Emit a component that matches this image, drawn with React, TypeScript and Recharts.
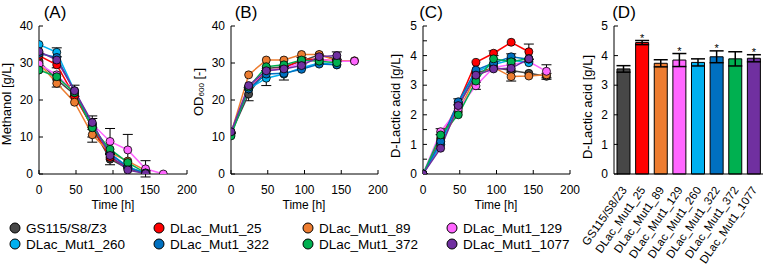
import React from "react";
import {
  LineChart,
  Line,
  BarChart,
  Bar,
  Cell,
  XAxis,
  YAxis,
  ErrorBar,
  LabelList,
} from "recharts";

// sampling times [h]
const times = [0, 24, 48, 72, 96, 120, 144, 168];

const strains = [
  "GS115/S8/Z3",
  "DLac_Mut1_25",
  "DLac_Mut1_89",
  "DLac_Mut1_129",
  "DLac_Mut1_260",
  "DLac_Mut1_322",
  "DLac_Mut1_372",
  "DLac_Mut1_1077",
];
const keys = ["gs", "m25", "m89", "m129", "m260", "m322", "m372", "m1077"];
const colors = ["#474747", "#FF0000", "#ED7D31", "#FF66FF", "#00B0F0", "#0070C0", "#00B050", "#7030A0"];

// (A) methanol [g/L], one row per strain
const methanol = [
  [30.5, 25.5, 21.5, 12.5, 4.0, 1.5, 0.2, null],
  [32.0, 29.5, 21.0, 12.8, 4.5, 1.8, 0.2, null],
  [30.0, 24.5, 19.4, 10.6, 5.8, 3.5, 1.0, null],
  [29.7, 26.8, 22.0, 13.5, 8.8, 6.5, 1.4, 0.0],
  [35.0, 32.9, 22.5, 13.2, 5.5, 2.0, 0.2, null],
  [32.6, 31.5, 22.3, 13.5, 5.5, 1.8, 0.2, null],
  [28.1, 26.3, 22.0, 12.5, 6.7, 3.1, 0.3, null],
  [33.1, 30.8, 22.5, 13.9, 5.0, 1.1, 0.1, null],
];
const methanolErr = [
  [0, 2.0, 0, 2.5, 1.5, 0, 0, 0],
  [0, 0.8, 0, 0, 0, 0, 0, 0],
  [0, 0, 0, 2.0, 0, 0, 0, 0],
  [0, 0, 0, 0, 3.5, 4.2, 2.2, 0],
  [0, 1.2, 0, 0, 0, 0, 0, 0],
  [0, 0, 0, 0, 0, 0, 0, 0],
  [0, 0, 0, 0, 0, 0, 0, 0],
  [0, 0, 1.5, 1.8, 0, 0, 0, 0],
];

// (B) OD600 [-]
const od = [
  [11.0, 21.6, 28.5, 29.0, 30.5, 32.2, 31.0, null],
  [11.2, 23.0, 28.0, 28.5, 31.0, 31.0, 30.5, null],
  [11.0, 26.8, 30.8, 30.8, 32.3, 32.3, 30.6, 30.6],
  [11.3, 23.5, 28.0, 28.5, 30.0, 31.0, 30.5, 30.5],
  [11.0, 23.0, 25.9, 27.0, 28.7, 30.0, 29.5, null],
  [11.0, 23.0, 27.0, 27.2, 28.3, 29.7, 29.5, null],
  [10.3, 23.5, 29.0, 29.5, 30.8, 30.5, 30.1, null],
  [11.4, 23.9, 27.9, 28.4, 29.3, 31.7, 32.0, null],
];
const odErr = [
  [0, 1.8, 0, 0, 1.0, 0, 0, 0],
  [0, 0, 0, 0, 0, 0, 0, 0],
  [0, 0, 0, 0, 0, 0, 0, 0],
  [0, 0, 0, 0, 0, 0, 0, 0],
  [0, 0, 2.0, 0, 0, 0, 0, 0],
  [0, 0, 0, 1.8, 0, 0, 0, 0],
  [0, 0, 0, 0, 0, 0, 0, 0],
  [0, 0, 0, 0, 0, 0, 1.0, 0],
];

// (C) D-lactic acid [g/L]
const lactic = [
  [0, 1.0, 2.3, 3.4, 3.6, 3.5, 3.4, 3.3],
  [0, 1.2, 2.4, 3.77, 4.08, 4.45, 4.13, null],
  [0, 1.1, 2.1, 3.3, 3.6, 3.29, 3.31, 3.35],
  [0, 1.43, 2.2, 2.98, 3.6, 3.7, 3.8, 3.47],
  [0, 1.0, 2.4, 3.45, 3.7, 3.85, 3.76, null],
  [0, 1.1, 2.44, 3.51, 3.75, 3.96, 3.88, null],
  [0, 1.32, 2.0, 3.14, 3.89, 3.79, 3.9, null],
  [0, 0.87, 2.31, 3.34, 3.55, 3.57, 3.89, null],
];
const lacticErr = [
  [0, 0, 0, 0, 0, 0, 0, 0.1],
  [0, 0, 0, 0, 0.08, 0, 0.26, 0],
  [0, 0, 0, 0, 0, 0.15, 0, 0],
  [0, 0.1, 0, 0.12, 0, 0, 0, 0.22],
  [0, 0, 0, 0, 0, 0, 0, 0],
  [0, 0, 0.1, 0, 0, 0.1, 0, 0],
  [0, 0, 0, 0, 0, 0, 0, 0],
  [0, 0, 0, 0, 0, 0, 0, 0],
];

// (D) final D-lactic acid [g/L]
const finalLactic = [3.55, 4.44, 3.74, 3.85, 3.77, 3.96, 3.89, 3.91];
const finalErr = [0.11, 0.07, 0.12, 0.22, 0.12, 0.2, 0.24, 0.12];
const significant = [false, true, false, true, false, true, false, true];

const xTicks = [0, 50, 100, 150, 200];
const FONT = "'Liberation Sans', Arial, sans-serif";

function rowsFor(values: (number | null)[][], errs: number[][]) {
  return times.map((t, i) => {
    const row: any = { t };
    keys.forEach((k, s) => {
      row[k] = values[s][i];
      row[k + "_e"] = errs[s][i];
    });
    return row;
  });
}

interface PanelProps {
  left: number;
  yWidth: number;
  values: (number | null)[][];
  errs: number[][];
  yMax: number;
  yTicks: number[];
  yFmt?: (v: number) => string;
}

function TimePanel({ left, yWidth, values, errs, yMax, yTicks, yFmt }: PanelProps) {
  const data = rowsFor(values, errs);
  const tickStyle = { fontSize: 12, fill: "#000", fontFamily: FONT };
  return (
    <div style={{ position: "absolute", left, top: 0 }}>
      <LineChart width={202} height={215} data={data} margin={{ top: 26, right: 15, bottom: 0, left: 0 }}>
        <XAxis
          dataKey="t"
          type="number"
          domain={[0, 200]}
          ticks={xTicks}
          interval={0}
          tickSize={-4}
          tickMargin={15}
          height={41}
          tick={tickStyle}
          stroke="#000"
          allowDataOverflow
        />
        <XAxis
          xAxisId="top"
          orientation="top"
          dataKey="t"
          type="number"
          domain={[0, 200]}
          ticks={xTicks}
          interval={0}
          tickSize={-4}
          tick={false}
          height={0}
          stroke="#000"
          allowDataOverflow
        />
        <YAxis
          type="number"
          domain={[0, yMax]}
          ticks={yTicks}
          interval={0}
          tickSize={-4}
          tickMargin={10}
          width={yWidth}
          tick={tickStyle}
          tickFormatter={yFmt}
          stroke="#000"
          allowDataOverflow
        />
        <YAxis
          yAxisId="r"
          orientation="right"
          type="number"
          domain={[0, yMax]}
          ticks={yTicks}
          interval={0}
          tickSize={-4}
          tick={false}
          width={0}
          stroke="#000"
          allowDataOverflow
        />
        {keys.map((k, s) => (
          <Line
            key={k}
            dataKey={k}
            stroke={colors[s]}
            strokeWidth={1.5}
            dot={{ r: 4, fill: colors[s], stroke: "#000", strokeWidth: 0.8 }}
            isAnimationActive={false}
          >
            <ErrorBar dataKey={k + "_e"} width={5} stroke="#000" strokeWidth={1} direction="y" />
          </Line>
        ))}
      </LineChart>
    </div>
  );
}

const barRows = strains.map((name, i) => ({
  name,
  v: finalLactic[i],
  e: finalErr[i],
  sig: significant[i] ? 1 : 0,
}));

function RotTick(props: any) {
  const { x, y, payload } = props;
  const ax = x + 4;
  const ay = y + 8;
  return (
    <text
      x={ax}
      y={ay}
      transform={`rotate(-55 ${ax} ${ay})`}
      textAnchor="end"
      fontSize={11.5}
      fontFamily={FONT}
      fill="#000"
    >
      {payload.value}
    </text>
  );
}

function Star(props: any) {
  const { x, y, width, height, value, index } = props;
  if (!value) return null;
  const errPx = (finalErr[index] * height) / finalLactic[index];
  return (
    <text x={x + width / 2} y={y - errPx + 1} textAnchor="middle" fontSize={11} fontFamily={FONT} fill="#000">
      *
    </text>
  );
}

function BarPanel() {
  const tickStyle = { fontSize: 12, fill: "#000", fontFamily: FONT };
  return (
    <div style={{ position: "absolute", left: 574, top: 0 }}>
      <BarChart
        width={190}
        height={270}
        data={barRows}
        margin={{ top: 26, right: 1, bottom: 0, left: 0 }}
        barCategoryGap={3}
      >
        <XAxis dataKey="name" interval={0} tickLine={false} tick={<RotTick />} height={96} stroke="#000" />
        <XAxis xAxisId="top" orientation="top" dataKey="name" tick={false} tickLine={false} height={0} stroke="#000" />
        <YAxis
          type="number"
          domain={[0, 5]}
          ticks={[0, 1, 2, 3, 4, 5]}
          interval={0}
          tickSize={-4}
          tickMargin={10}
          width={40}
          tick={tickStyle}
          stroke="#000"
        />
        <YAxis
          yAxisId="r"
          orientation="right"
          type="number"
          domain={[0, 5]}
          ticks={[0, 1, 2, 3, 4, 5]}
          interval={0}
          tickSize={-4}
          tick={false}
          width={0}
          stroke="#000"
        />
        <Bar dataKey="v" stroke="#000" strokeWidth={1} isAnimationActive={false}>
          {barRows.map((r, i) => (
            <Cell key={r.name} fill={colors[i]} />
          ))}
          <ErrorBar dataKey="e" width={7} stroke="#000" strokeWidth={1.5} />
          <LabelList dataKey="sig" content={<Star />} />
        </Bar>
      </BarChart>
    </div>
  );
}

const legendCols = [15, 159, 308, 452];
const legendRows = [228, 244];

function Overlay() {
  const yTitle = (x: number, y: number, content: React.ReactNode) => (
    <text
      x={x}
      y={y}
      transform={`rotate(-90 ${x} ${y})`}
      textAnchor="middle"
      dominantBaseline="central"
      fontSize={13}
    >
      {content}
    </text>
  );
  return (
    <svg
      width={764}
      height={270}
      style={{ position: "absolute", left: 0, top: 0, pointerEvents: "none" }}
      fontFamily={FONT}
      fill="#000"
    >
      {[
        ["(A)", 55],
        ["(B)", 246],
        ["(C)", 431],
        ["(D)", 624],
      ].map(([t, x]) => (
        <text key={t as string} x={x as number} y={12} textAnchor="middle" dominantBaseline="central" fontSize={17}>
          {t}
        </text>
      ))}
      {yTitle(6, 104, "Methanol [g/L]")}
      {yTitle(
        198,
        92,
        <>
          OD<tspan fontSize={8} dy={3}>600</tspan>
          <tspan dy={-3}> [-]</tspan>
        </>
      )}
      {yTitle(395, 106, "D-Lactic acid [g/L]")}
      {yTitle(587, 107, "D-Lactic acid [g/L]")}
      {[113, 304, 496].map((x) => (
        <text key={x} x={x} y={205} textAnchor="middle" dominantBaseline="central" fontSize={12}>
          Time [h]
        </text>
      ))}
      {strains.map((name, i) => {
        const cx = legendCols[i % 4];
        const cy = legendRows[Math.floor(i / 4)];
        return (
          <g key={name}>
            <circle cx={cx} cy={cy} r={5} fill={colors[i]} stroke="#000" strokeWidth={1} />
            <text x={cx + 11} y={cy} dominantBaseline="central" fontSize={13.5}>
              {name}
            </text>
          </g>
        );
      })}
    </svg>
  );
}

export default function App() {
  return (
    <div
      style={{
        position: "absolute",
        left: 0,
        top: 0,
        width: 764,
        height: 270,
        background: "#fff",
        fontFamily: FONT,
        overflow: "hidden",
      }}
    >
      <TimePanel left={0} yWidth={39} values={methanol} errs={methanolErr} yMax={40} yTicks={[0, 10, 20, 30, 40]} />
      <TimePanel left={191} yWidth={40} values={od} errs={odErr} yMax={40} yTicks={[0, 10, 20, 30, 40]} />
      <TimePanel
        left={383}
        yWidth={40}
        values={lactic}
        errs={lacticErr}
        yMax={5}
        yTicks={[0, 0.5, 1, 1.5, 2, 2.5, 3, 3.5, 4, 4.5, 5]}
        yFmt={(v: number) => (Number.isInteger(v) ? String(v) : "")}
      />
      <BarPanel />
      <Overlay />
    </div>
  );
}
